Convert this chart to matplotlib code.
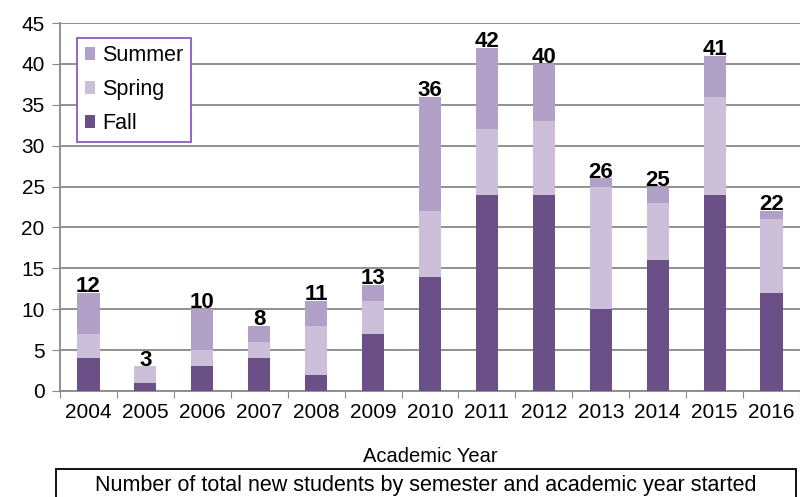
import matplotlib
matplotlib.use('Agg')
import matplotlib.pyplot as plt
import numpy as np
from matplotlib.patches import Rectangle

plt.rcParams['font.family'] = ['Liberation Sans', 'DejaVu Sans']

years = ['2004', '2005', '2006', '2007', '2008', '2009', '2010',
         '2011', '2012', '2013', '2014', '2015', '2016']
fall = [4, 1, 3, 4, 2, 7, 14, 24, 24, 10, 16, 24, 12]
spring = [3, 2, 2, 2, 6, 4, 8, 8, 9, 15, 7, 12, 9]
summer = [5, 0, 5, 2, 3, 2, 14, 10, 7, 1, 2, 5, 1]

fall_color = '#6a5087'
spring_color = '#cbbfda'
summer_color = '#b1a0c7'

fig = plt.figure(figsize=(8, 4.97), dpi=100)
ax = fig.add_axes([0.075, 0.2133, 0.925, 0.7404])

x = np.arange(len(years))
fall = np.array(fall)
spring = np.array(spring)
summer = np.array(summer)
totals = fall + spring + summer
w = 0.39

b_fall = ax.bar(x, fall, w, color=fall_color, label='Fall', zorder=3)
b_spring = ax.bar(x, spring, w, bottom=fall, color=spring_color, label='Spring', zorder=3)
b_summer = ax.bar(x, summer, w, bottom=fall + spring, color=summer_color, label='Summer', zorder=3)

# total labels on top of each bar
for xi, t in zip(x, totals):
    ax.annotate(str(t), (xi, t), xytext=(0, -3), textcoords='offset points',
                ha='center', va='bottom', fontsize=16, fontweight='bold', zorder=4)

ax.set_xlim(-0.5, len(years) - 0.5)
ax.set_ylim(0, 45)
ax.set_yticks(np.arange(0, 46, 5))
ax.tick_params(axis='y', labelsize=15, length=6, color='#888888', pad=5)

# ticks between categories, labels under the bars
ax.set_xticks(np.arange(-0.5, len(years), 1))
ax.set_xticklabels([])
ax.set_xticks(x, minor=True)
ax.set_xticklabels(years, minor=True)
ax.tick_params(axis='x', which='major', length=5, color='#888888')
ax.tick_params(axis='x', which='minor', length=0, labelsize=15, pad=9)

ax.yaxis.grid(True, color='#888888', linewidth=1.3, zorder=0)
ax.set_axisbelow(True)
for s in ['top', 'right']:
    ax.spines[s].set_visible(False)
for s in ['left', 'bottom']:
    ax.spines[s].set_color('#888888')
    ax.spines[s].set_linewidth(1.3)

ax.set_xlabel('Academic Year', fontsize=14.5, labelpad=18)

leg = ax.legend(handles=[b_summer, b_spring, b_fall], loc='upper left',
                bbox_to_anchor=(0.023, 0.96), fontsize=15.5, fancybox=False,
                handlelength=0.5, handleheight=0.5, handletextpad=0.3,
                labelspacing=0.6, borderpad=0.35, borderaxespad=0, framealpha=1)
leg.get_frame().set_edgecolor('#8a5cc0')
leg.get_frame().set_linewidth(1.3)

# caption box at the bottom
fig.patches.append(Rectangle((56 / 800, -0.05), 740 / 800, 0.05 + 28 / 497,
                             transform=fig.transFigure, fill=False,
                             edgecolor='black', linewidth=1.3))
fig.text(426 / 800, 12 / 497, 'Number of total new students by semester and academic year started',
         ha='center', va='center', fontsize=15.5)

fig.savefig('out.png', dpi=100)
